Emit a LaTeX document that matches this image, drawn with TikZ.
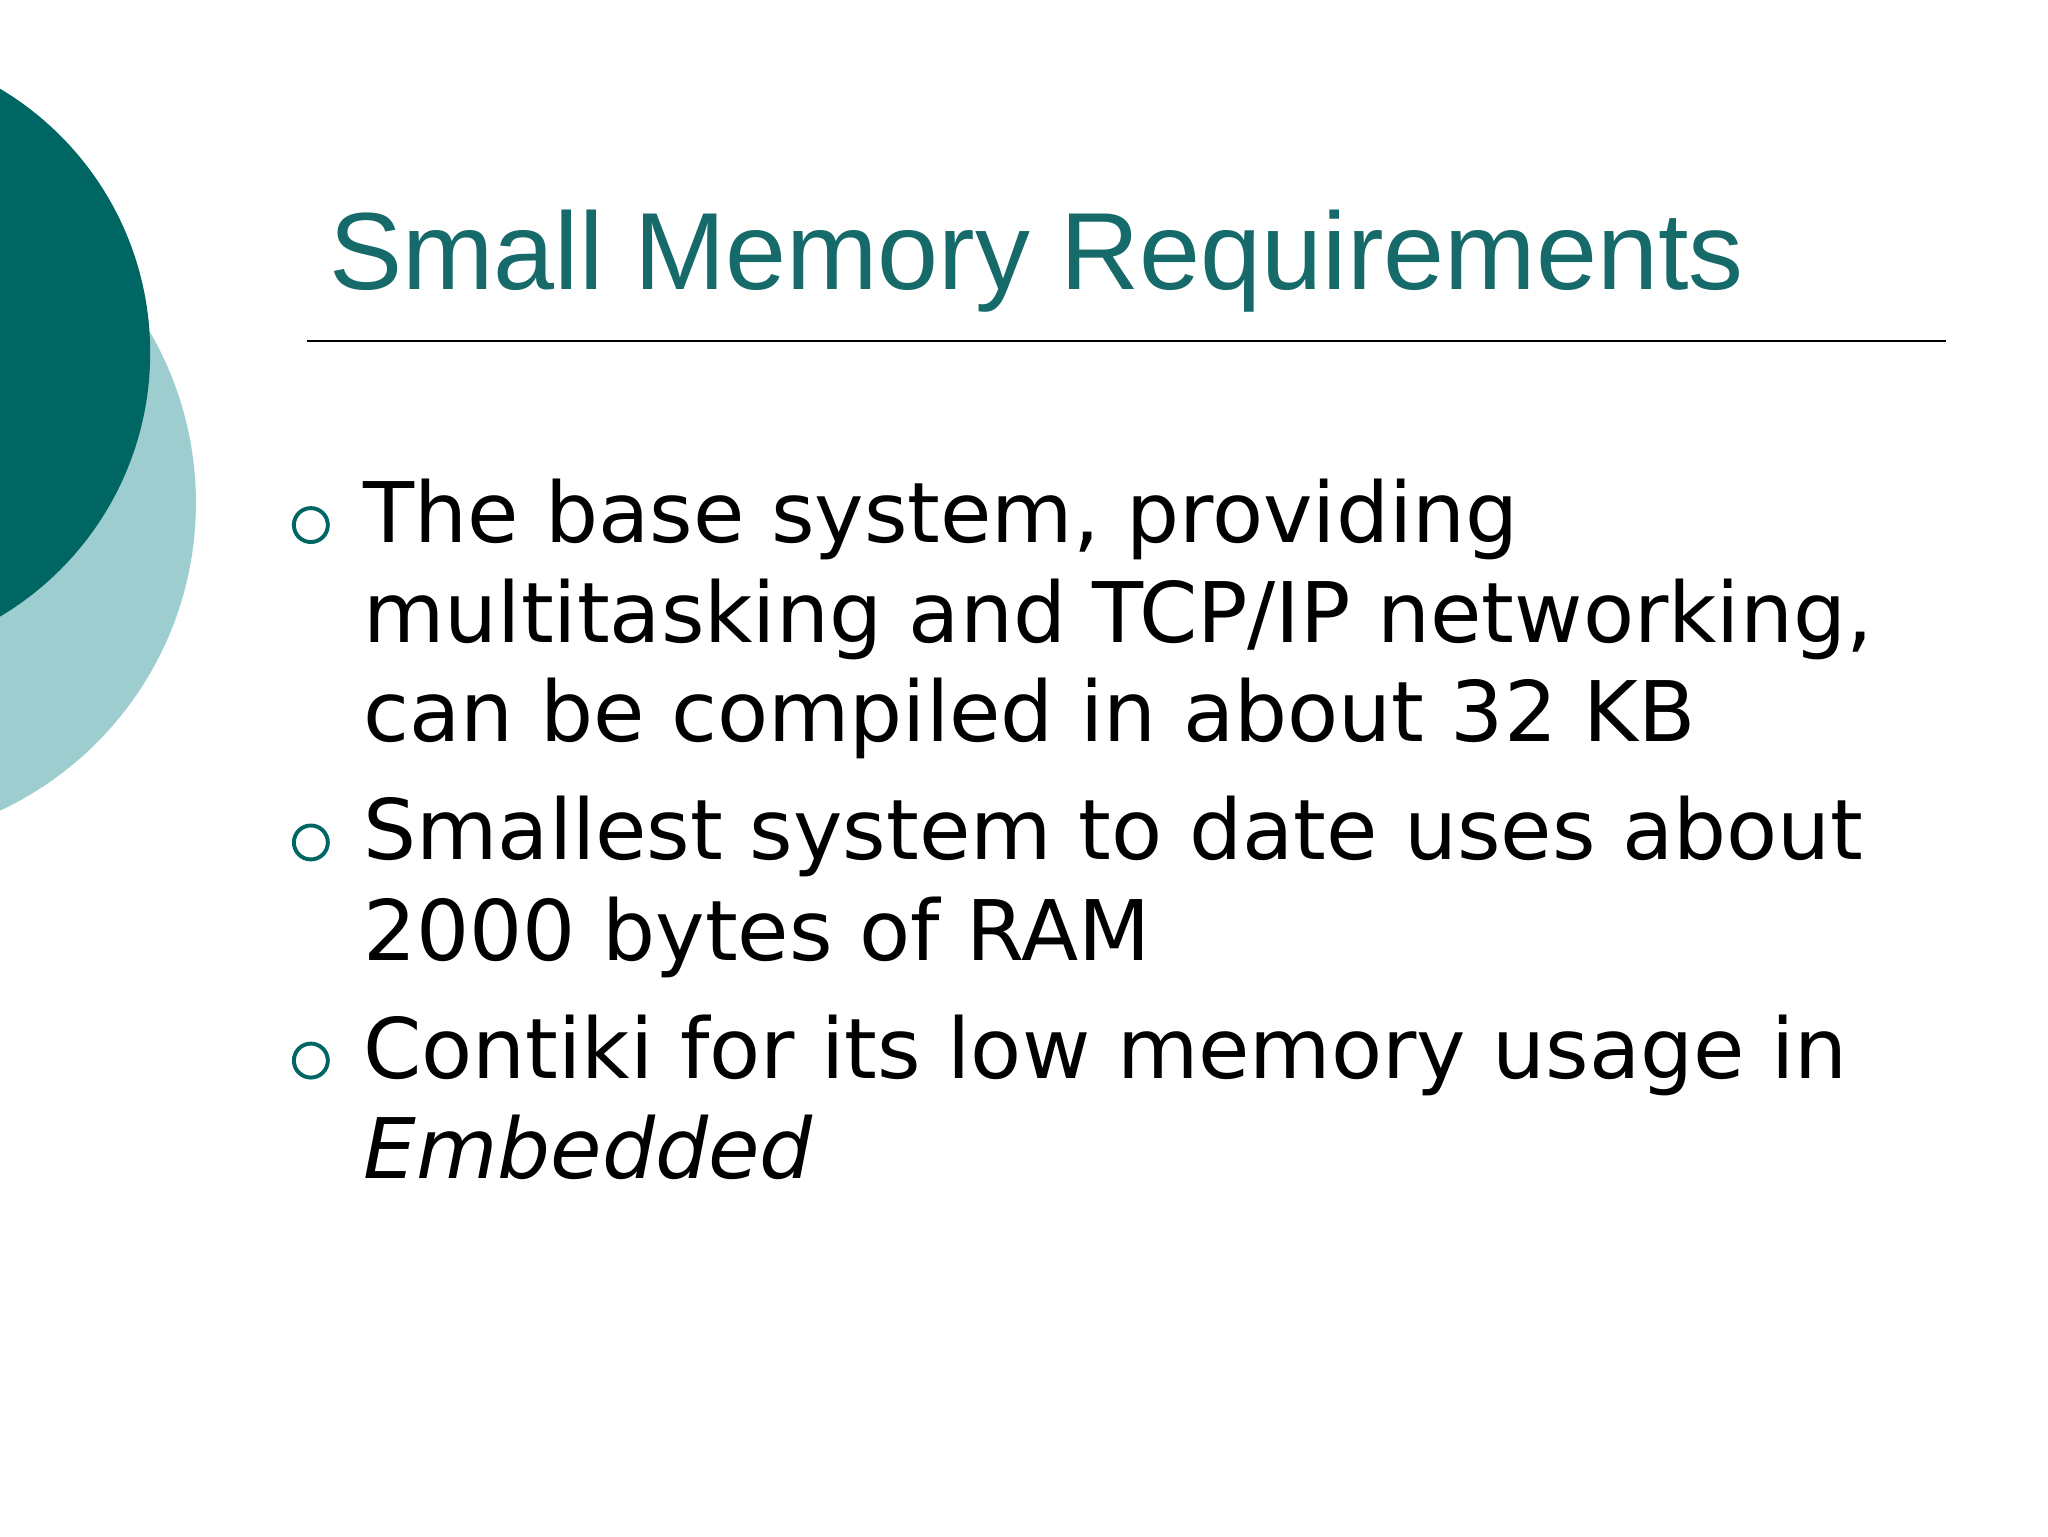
\documentclass[tikz,border=0pt]{standalone}
\usepackage{fontspec}
\setmainfont{DejaVu Sans}
\newfontfamily\titlefont{Liberation Sans}
\definecolor{darkteal}{RGB}{0,102,100}
\definecolor{lightteal}{RGB}{158,205,208}
\definecolor{titleteal}{RGB}{22,106,106}
\begin{document}
\begin{tikzpicture}[x=1pt,y=-1pt,
  body/.style={anchor=base west,inner sep=0,font=\fontsize{64}{77}\selectfont},
  bul/.style={circle,draw=darkteal,line width=3pt,minimum size=26pt,inner sep=0}]
\useasboundingbox (0,0) rectangle (1568,1176);
\fill[white] (0,0) rectangle (1568,1176);
\begin{scope}
\clip (0,0) rectangle (1568,1176);
\fill[lightteal] (-110,385) circle (260);
\fill[darkteal] (-120,270) circle (235);
\end{scope}
\node[anchor=base west,inner sep=0,text=titleteal,font=\titlefont\fontsize{84}{90}\selectfont] (title) at (252,222) {Small Memory Requirements};
\coordinate (l1) at (235,261); \coordinate (l2) at (1490,261);
\draw[line width=1.3pt] (l1) -- (l2);
\node[bul] (b1) at (238,402) {};
\node[bul] (b2) at (238,645) {};
\node[bul] (b3) at (238,812) {};
\node[body] (t1) at (278,415) {The base system, providing};
\node[body] (t2) at (278,492) {multitasking and TCP/IP networking,};
\node[body] (t3) at (278,568) {can be compiled in about 32 KB};
\node[body] (t4) at (278,658) {Smallest system to date uses about};
\node[body] (t5) at (278,735) {2000 bytes of RAM};
\node[body] (t6) at (278,826) {Contiki for its low memory usage in};
\node[body] (t7) at (278,902) {\itshape Embedded};
\end{tikzpicture}
\end{document}
